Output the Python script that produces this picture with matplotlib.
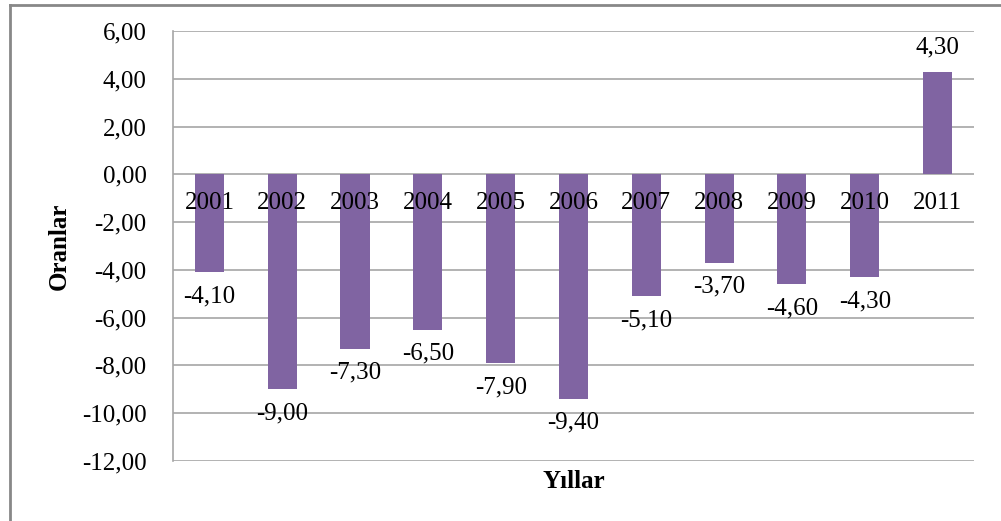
import matplotlib.pyplot as plt
from matplotlib.lines import Line2D
import numpy as np

years = ['2001', '2002', '2003', '2004', '2005', '2006', '2007', '2008', '2009', '2010', '2011']
rates = [-4.10, -9.00, -7.30, -6.50, -7.90, -9.40, -5.10, -3.70, -4.60, -4.30, 4.30]
yticks = [6, 4, 2, 0, -2, -4, -6, -8, -10, -12]

plt.rcParams['font.family'] = ['Liberation Serif', 'DejaVu Serif']

fig = plt.figure(figsize=(10.01, 5.21), dpi=100)
ax = fig.add_axes([0.1728, 0.1152, 0.8002, 0.8253])

x = np.arange(len(years))
ax.bar(x, rates, width=0.4, color='#8064A2', zorder=2)

ax.set_xlim(-0.5, len(years) - 0.5)
ax.set_ylim(-12, 6)
ax.set_yticks(yticks)
ax.set_yticklabels([f"{v:.2f}".replace('.', ',') for v in yticks], fontsize=18)
ax.set_xticks([])
ax.tick_params(axis='y', length=0, pad=19)
ax.grid(axis='y', color='#A6A6A6', linewidth=1.2, zorder=0)

for s in ['top', 'right', 'bottom']:
    ax.spines[s].set_visible(False)
ax.spines['left'].set_color('#A6A6A6')
ax.spines['left'].set_linewidth(1.2)

# category labels sit on the zero line, over the bars
for i, yr in enumerate(years):
    ax.annotate(yr, xy=(i, 0), xytext=(0, -29), textcoords='offset pixels',
                ha='center', va='center', fontsize=18, zorder=3)

# value labels
for i, v in enumerate(rates):
    off = 24 if v > 0 else -24
    ax.annotate(f"{v:.2f}".replace('.', ','), xy=(i, v), xytext=(0, off),
                textcoords='offset pixels', ha='center', va='center', fontsize=18, zorder=3)

ax.set_ylabel('Oranlar', fontsize=18, fontweight='bold')
ax.yaxis.set_label_coords(-0.128, 0.5)
ax.set_xlabel('Yıllar', fontsize=18, fontweight='bold')
ax.xaxis.set_label_coords(0.5, -0.022)

# outer chart border (only top and left edges visible)
fig.add_artist(Line2D([10 / 1001, 1.0], [1 - 5 / 521, 1 - 5 / 521], color='#888888', linewidth=2.0))
fig.add_artist(Line2D([10 / 1001, 10 / 1001], [0.0, 1 - 5 / 521], color='#888888', linewidth=2.0))

fig.savefig('out.png', dpi=100)
